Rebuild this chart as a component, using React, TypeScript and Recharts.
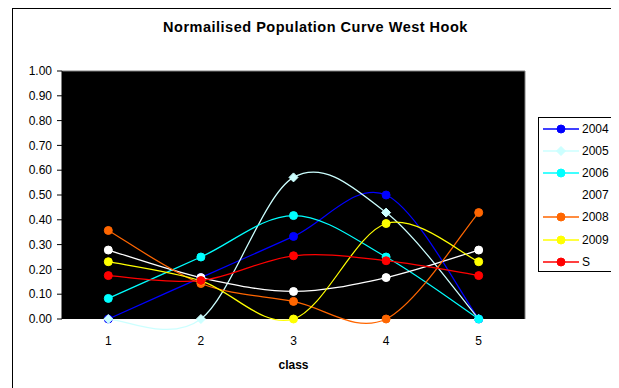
import React from "react";
import {LineChart, Line, XAxis, YAxis, CartesianGrid, ReferenceLine} from "recharts";

// Normalised population share per size class, one array per year
const classes = [1, 2, 3, 4, 5];
const y2004 = [0, 0.167, 0.333, 0.5, 0];
const y2005 = [0, 0, 0.571, 0.429, 0];
const y2006 = [0.083, 0.25, 0.417, 0.25, 0];
const y2007 = [0.278, 0.167, 0.111, 0.167, 0.278];
const y2008 = [0.357, 0.143, 0.071, 0, 0.429];
const y2009 = [0.231, 0.154, 0, 0.385, 0.231];
const ySum = [0.175, 0.155, 0.255, 0.235, 0.175];

const yTicks = [0, 0.1, 0.2, 0.3, 0.4, 0.5, 0.6, 0.7, 0.8, 0.9, 1];
const edgeTicks = [0.5, 1.5, 2.5, 3.5, 4.5, 5.5];

type Series = {key: string; values: number[]; color: string; marker: "circle" | "diamond"};

const series: Series[] = [
  {key: "2004", values: y2004, color: "#0000ff", marker: "circle"},
  {key: "2005", values: y2005, color: "#ccffff", marker: "diamond"},
  {key: "2006", values: y2006, color: "#00ffff", marker: "circle"},
  {key: "2007", values: y2007, color: "#ffffff", marker: "circle"},
  {key: "2008", values: y2008, color: "#ff6600", marker: "circle"},
  {key: "2009", values: y2009, color: "#ffff00", marker: "circle"},
  {key: "S", values: ySum, color: "#ff0000", marker: "circle"},
];

const data = classes.map((cls, i) => {
  const row: Record<string, number> = {cls};
  series.forEach((s) => (row[s.key] = s.values[i]));
  return row;
});

// Catmull-Rom style bezier smoothing, the way spreadsheet "smoothed lines" look
function smoothCurve(context: any) {
  let pts: [number, number][] = [];
  return {
    areaStart() {},
    areaEnd() {},
    lineStart() {
      pts = [];
    },
    point(x: number, y: number) {
      pts.push([+x, +y]);
    },
    lineEnd() {
      const n = pts.length;
      if (!n) return;
      context.moveTo(pts[0][0], pts[0][1]);
      for (let i = 0; i < n - 1; i++) {
        const p0 = pts[Math.max(i - 1, 0)];
        const p1 = pts[i];
        const p2 = pts[i + 1];
        const p3 = pts[Math.min(i + 2, n - 1)];
        context.bezierCurveTo(
          p1[0] + (p2[0] - p0[0]) / 6,
          p1[1] + (p2[1] - p0[1]) / 6,
          p2[0] - (p3[0] - p1[0]) / 6,
          p2[1] - (p3[1] - p1[1]) / 6,
          p2[0],
          p2[1]
        );
      }
    },
  };
}

function Marker({cx, cy, color, shape}: {cx: number; cy: number; color: string; shape: string}) {
  if (shape === "diamond") {
    return (
      <path
        d={`M${cx},${cy - 4.5}L${cx + 4.5},${cy}L${cx},${cy + 4.5}L${cx - 4.5},${cy}Z`}
        fill={color}
        stroke={color}
      />
    );
  }
  return <circle cx={cx} cy={cy} r={4} fill={color} stroke={color} strokeWidth={1} />;
}

function LegendBox() {
  return (
    <div
      style={{
        position: "absolute",
        left: 525,
        top: 108,
        width: 77,
        height: 155,
        border: "1px solid #000",
        boxSizing: "border-box",
        background: "#fff",
      }}
    >
      {series.map((s, i) => (
        <div
          key={s.key}
          style={{
            position: "absolute",
            left: 4,
            top: 3 + i * 22.1,
            height: 16,
            display: "flex",
            alignItems: "center",
            fontSize: 12,
          }}
        >
          <svg width={36} height={12}>
            <line x1={0} y1={6} x2={36} y2={6} stroke={s.color} strokeWidth={1.5} />
            <Marker cx={18} cy={6} color={s.color} shape={s.marker} />
          </svg>
          <span style={{marginLeft: 3}}>{s.key}</span>
        </div>
      ))}
    </div>
  );
}

export default function App() {
  const axisTick = {fill: "#000", fontSize: 12};
  return (
    <div
      style={{
        position: "relative",
        marginLeft: 4,
        width: 607,
        height: 392,
        border: "1px solid #000",
        boxSizing: "border-box",
        background: "#fff",
        fontFamily: "'Liberation Sans', Arial, sans-serif",
        color: "#000",
      }}
    >
      <div
        style={{
          position: "absolute",
          left: 0,
          right: 0,
          top: 10,
          textAlign: "center",
          fontSize: 14.5,
          letterSpacing: 0.5,
          fontWeight: "bold",
        }}
      >
        Normailised Population Curve West Hook
      </div>

      <div style={{position: "absolute", left: 0, top: 0}}>
        <LineChart width={604} height={378} data={data} margin={{top: 62, right: 92, left: 0, bottom: 28}}>
          <CartesianGrid xAxisId="edge" fill="#000" horizontal={false} vertical={false} />
          <XAxis
            xAxisId="edge"
            type="number"
            dataKey="cls"
            domain={[0.5, 5.5]}
            ticks={edgeTicks}
            tickFormatter={() => ""}
            tickSize={5}
            height={0}
            stroke="#000"
          />
          <XAxis
            xAxisId="lab"
            type="number"
            dataKey="cls"
            domain={[0.5, 5.5]}
            ticks={classes}
            axisLine={false}
            tickLine={false}
            tickSize={0}
            tickMargin={17}
            tick={axisTick}
            height={40}
          />
          <YAxis
            type="number"
            domain={[0, 1]}
            ticks={yTicks}
            tickFormatter={(v: number) => v.toFixed(2)}
            tickSize={5}
            tickMargin={5}
            tick={axisTick}
            width={49}
            stroke="#000"
          />
          <ReferenceLine xAxisId="edge" y={1} stroke="#808080" />
          <ReferenceLine xAxisId="edge" x={5.5} stroke="#808080" />
          {series.map((s) => (
            <Line
              key={s.key}
              xAxisId="edge"
              dataKey={s.key}
              type={smoothCurve as any}
              stroke={s.color}
              strokeWidth={1.25}
              dot={(p: any) => <Marker key={`${s.key}-${p.index}`} cx={p.cx} cy={p.cy} color={s.color} shape={s.marker} />}
              activeDot={false}
              isAnimationActive={false}
            />
          ))}
        </LineChart>
      </div>

      <div
        style={{
          position: "absolute",
          left: 49,
          width: 463,
          top: 349,
          textAlign: "center",
          fontSize: 12,
          fontWeight: "bold",
        }}
      >
        class
      </div>

      <LegendBox />
    </div>
  );
}
